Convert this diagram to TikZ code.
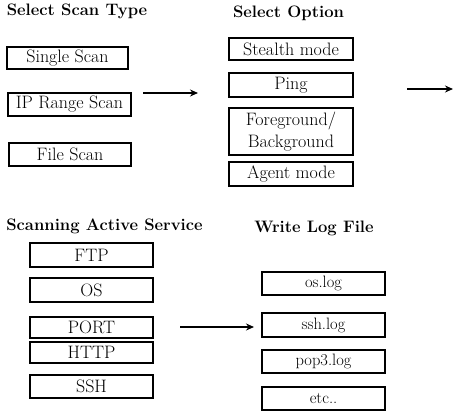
\documentclass[tikz,border=0pt]{standalone}
\usetikzlibrary{arrows.meta}
\begin{document}
\begin{tikzpicture}[x=1pt,y=-1pt,
  box/.style={draw=black,line width=1.5pt,inner sep=0pt,anchor=center,minimum width=123pt,minimum height=23pt,font=\fontsize{18}{22.5}\selectfont,align=center},
  logbox/.style={box,font=\fontsize{16.5}{20}\selectfont},
  ttl/.style={inner sep=0pt,anchor=center,font=\fontsize{16.6}{19}\selectfont\bfseries},
  arr/.style={line width=1.8pt,-{Stealth[length=8pt,width=7pt]}}]
\useasboundingbox (0,0) rectangle (454,415);
% titles
\node[ttl] (t1) at (77,11) {Select Scan Type};
\node[ttl] (t2) at (288.5,13) {Select Option};
\node[ttl] (t3) at (104.5,226) {Scanning Active Service};
\node[ttl] (t4) at (314,228) {Write Log File};
% column 1
\node[box,minimum width=121pt,minimum height=22pt] (single) at (67.5,58) {Single Scan};
\node[box] (iprange) at (69.5,104.5) {IP Range Scan};
\node[box,minimum width=122pt] (filescan) at (70,154.5) {File Scan};
% column 2
\node[box,minimum width=124pt,minimum height=22pt] (stealth) at (291,49) {Stealth mode};
\node[box,minimum width=124pt,minimum height=24pt] (ping) at (291,85) {Ping};
\node[box,minimum width=124pt,minimum height=47pt] (fgbg) at (291,131.5) {Foreground/\\Background};
\node[box,minimum width=124pt,minimum height=24pt] (agent) at (291,174) {Agent mode};
% column 3
\node[box,minimum height=24pt] (ftp) at (91.5,255) {FTP};
\node[box,minimum height=24pt] (os) at (91.5,290) {OS};
\node[box,minimum height=21pt] (port) at (91.5,327.5) {PORT};
\node[box,minimum height=21pt] (http) at (91.5,352.5) {HTTP};
\node[box] (ssh) at (91.5,386.5) {SSH};
% column 4
\node[logbox] (oslog) at (323.5,283.5) {os.log};
\node[logbox,minimum height=24pt] (sshlog) at (323.5,325) {ssh.log};
\node[logbox] (pop3) at (323.5,361.5) {pop3.log};
\node[logbox] (etc) at (323.5,398.5) {etc..};
% arrows
\coordinate (a1s) at (143,93);
\coordinate (a1e) at (198,93);
\coordinate (a2s) at (407,89);
\coordinate (a2e) at (453,89);
\coordinate (a3s) at (180,327);
\coordinate (a3e) at (254,327);
\draw[arr] (a1s) -- (a1e);
\draw[arr] (a2s) -- (a2e);
\draw[arr] (a3s) -- (a3e);
\end{tikzpicture}
\end{document}
